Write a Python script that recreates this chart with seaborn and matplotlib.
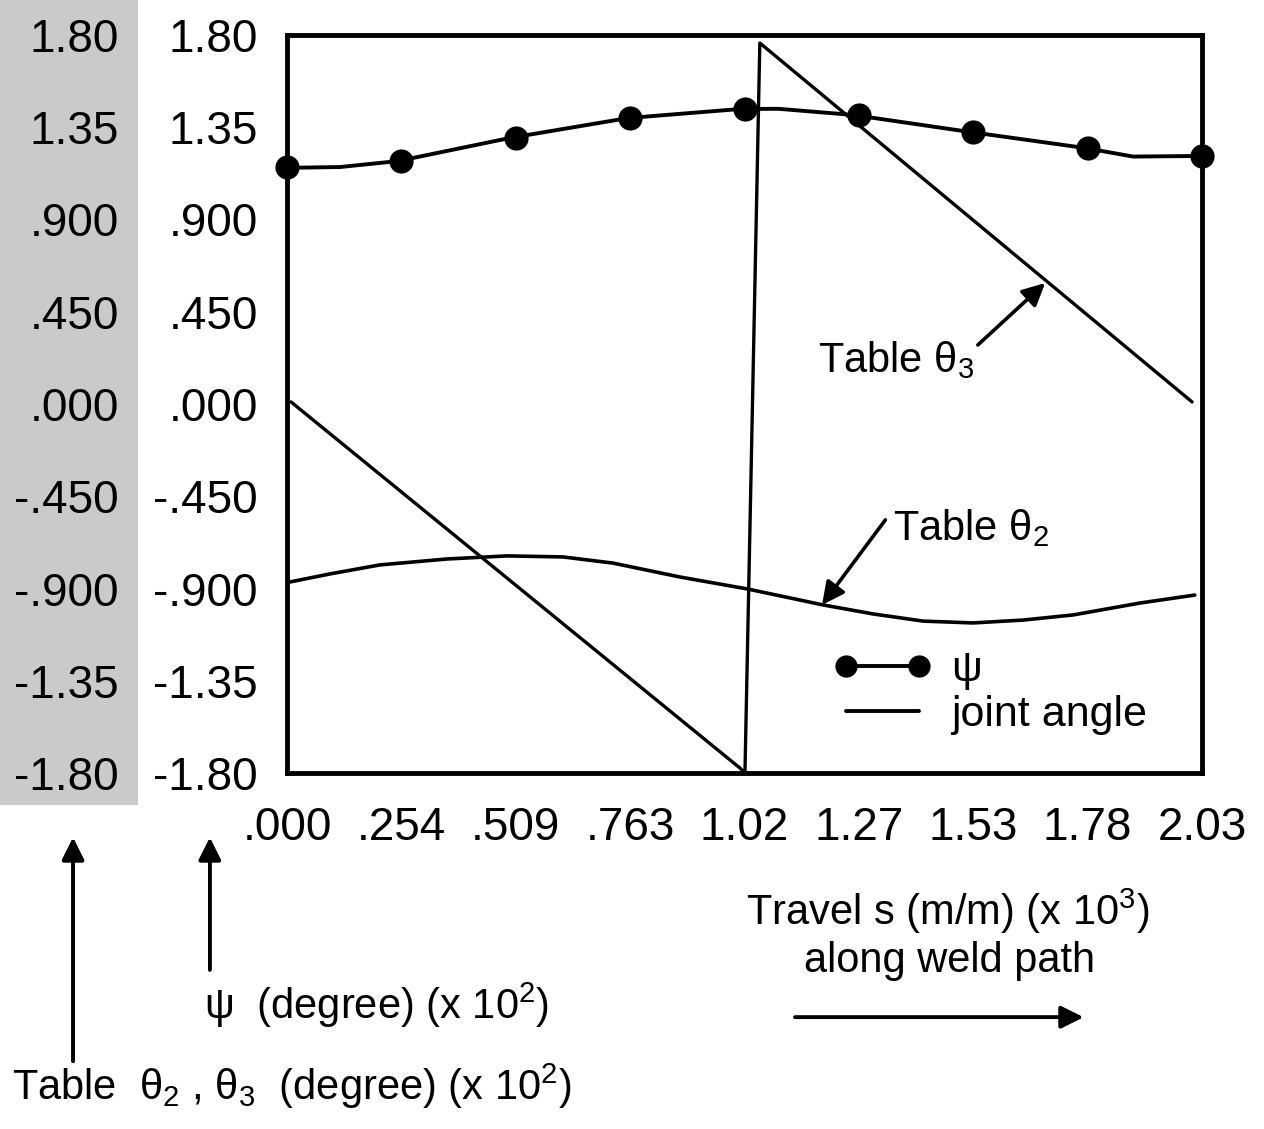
import numpy as np
import pandas as pd
import seaborn as sns
import matplotlib.pyplot as plt
from matplotlib.lines import Line2D
from matplotlib.patches import Rectangle

# x axis: travel s (m/m) (x 10^3)
s_ticks = np.linspace(0, 2.03, 9)
s_labels = ['.000', '.254', '.509', '.763', '1.02', '1.27', '1.53', '1.78', '2.03']
# y axis: degrees (x 10^2), same scale on both left axes
y_ticks = np.linspace(-1.80, 1.80, 9)
y_labels = ['-1.80', '-1.35', '-.900', '-.450', '.000', '.450', '.900', '1.35', '1.80']

# psi curve
psi_s = [0.0, 0.118, 0.246, 0.495, 0.757, 1.005, 1.09, 1.256, 1.515, 1.770, 1.877, 2.03]
psi = [1.152, 1.156, 1.185, 1.298, 1.395, 1.439, 1.440, 1.410, 1.327, 1.249, 1.207, 1.21]
psi_mark = [1.155, 1.185, 1.298, 1.395, 1.439, 1.410, 1.327, 1.249, 1.212]

# table theta2
th2_s = [0.007, 0.095, 0.206, 0.355, 0.488, 0.612, 0.723, 0.872, 1.021, 1.189,
         1.300, 1.411, 1.522, 1.633, 1.744, 1.892, 2.014]
th2 = [-0.868, -0.829, -0.785, -0.756, -0.741, -0.746, -0.776, -0.844, -0.902, -0.980,
       -1.024, -1.059, -1.068, -1.054, -1.029, -0.971, -0.932]

# table theta3 (wraps around at s ~ 1.02)
th3_s = [0.009, 1.005, 1.016, 1.049, 2.008]
th3 = [0.010, -1.776, -1.80, 1.761, 0.010]

sns.set_style('white')
plt.rcParams['font.family'] = ['Liberation Sans', 'DejaVu Sans']
plt.rcParams['mathtext.fontset'] = 'custom'
plt.rcParams['mathtext.rm'] = 'Liberation Sans'
plt.rcParams['mathtext.it'] = 'Liberation Sans'
for k in ['text.color', 'axes.labelcolor', 'xtick.color', 'ytick.color', 'axes.edgecolor']:
    plt.rcParams[k] = 'k'

fig = plt.figure(figsize=(12.64, 11.29), dpi=100)
ax = fig.add_axes([287/1264, 1-773/1129, 915/1264, 738/1129])

# shaded strip behind the outer axis
fig.add_artist(Rectangle((0, 1-805/1129), 138/1264, 805/1129, transform=fig.transFigure,
                         facecolor='#cacaca', edgecolor='none', zorder=0))

df2 = pd.DataFrame({'s': th2_s, 'v': th2})
df3 = pd.DataFrame({'s': th3_s, 'v': th3})
dpsi = pd.DataFrame({'s': psi_s, 'v': psi})
dmark = pd.DataFrame({'s': s_ticks, 'v': psi_mark})

sns.lineplot(data=df2, x='s', y='v', sort=False, estimator=None, color='k', lw=2.6, ax=ax)
sns.lineplot(data=df3, x='s', y='v', sort=False, estimator=None, color='k', lw=2.4, ax=ax)
sns.lineplot(data=dpsi, x='s', y='v', sort=False, estimator=None, color='k', lw=2.8, ax=ax)
sns.scatterplot(data=dmark, x='s', y='v', color='k', s=260, edgecolor='k', ax=ax,
                clip_on=False, zorder=5)

ax.set_xlim(0, 2.03)
ax.set_ylim(-1.80, 1.80)
ax.set_xticks(s_ticks, labels=s_labels)
ax.set_yticks(y_ticks, labels=y_labels)
ax.set_xlabel('')
ax.set_ylabel('')
for sp in ax.spines.values():
    sp.set_linewidth(3.5)
    sp.set_color('k')
ax.tick_params(axis='both', direction='out', width=2.2, colors='k', labelsize=33)
ax.tick_params(axis='y', length=16, pad=5)
ax.tick_params(axis='x', length=19, pad=5)

# outer (shaded) axis for table theta2, theta3
sec = ax.secondary_yaxis(-0.184)
sec.set_yticks(y_ticks, labels=y_labels)
sec.tick_params(length=0, pad=0, labelsize=33, colors='k')
sec.spines['left'].set_visible(False)

# legend
h_psi = Line2D([], [], color='k', lw=2.8, marker='o', markersize=15)
h_joint = Line2D([], [], color='k', lw=2.8)
leg = ax.legend([h_psi, h_joint], ['ψ', 'joint angle'], numpoints=2, frameon=False,
                loc='upper left', bbox_to_anchor=(0.573, 0.196), handlelength=2.3,
                handletextpad=0.45, labelspacing=0.12, borderpad=0,
                prop={'size': 31})

# annotations
ax.text(0.580, 0.543, r'Table $\mathrm{\theta}_3$', transform=ax.transAxes,
        fontsize=30, va='baseline')
ax.annotate('', xy=(1.682, 0.590), xycoords='data', xytext=(0.755, 0.580),
            textcoords='axes fraction',
            arrowprops=dict(arrowstyle='-|>', lw=2.6, color='k', mutation_scale=34,
                            shrinkA=0, shrinkB=0))
ax.text(0.662, 0.316, r'Table $\mathrm{\theta}_2$', transform=ax.transAxes,
        fontsize=30, va='baseline')
ax.annotate('', xy=(1.187, -0.980), xycoords='data', xytext=(0.654, 0.343),
            textcoords='axes fraction',
            arrowprops=dict(arrowstyle='-|>', lw=2.6, color='k', mutation_scale=34,
                            shrinkA=0, shrinkB=0))

# axis titles below the plot
fig.text(0.750, 0.181, r'Travel s (m/m) (x 10$^{3}$)', ha='center', va='baseline',
         fontsize=30)
fig.text(0.751, 0.139, 'along weld path', ha='center', va='baseline', fontsize=30)
fig.text(0.161, 0.097, r'ψ  (degree) (x 10$^{2}$)', ha='left', va='baseline', fontsize=30)
fig.text(0.0095, 0.026, r'Table  $\mathrm{\theta}_2$ , $\mathrm{\theta}_3$  (degree) (x 10$^{2}$)',
         ha='left', va='baseline', fontsize=30)

arr = dict(arrowstyle='-|>', lw=2.6, color='k', mutation_scale=34, shrinkA=0, shrinkB=0)
fig.add_artist(plt.annotate('', xy=(0.857, 0.099), xytext=(0.629, 0.099),
                            xycoords='figure fraction', arrowprops=arr))
fig.add_artist(plt.annotate('', xy=(0.0578, 0.258), xytext=(0.0578, 0.060),
                            xycoords='figure fraction', arrowprops=arr))
fig.add_artist(plt.annotate('', xy=(0.166, 0.258), xytext=(0.166, 0.141),
                            xycoords='figure fraction', arrowprops=arr))

fig.savefig('out.png', dpi=100, facecolor='white')
